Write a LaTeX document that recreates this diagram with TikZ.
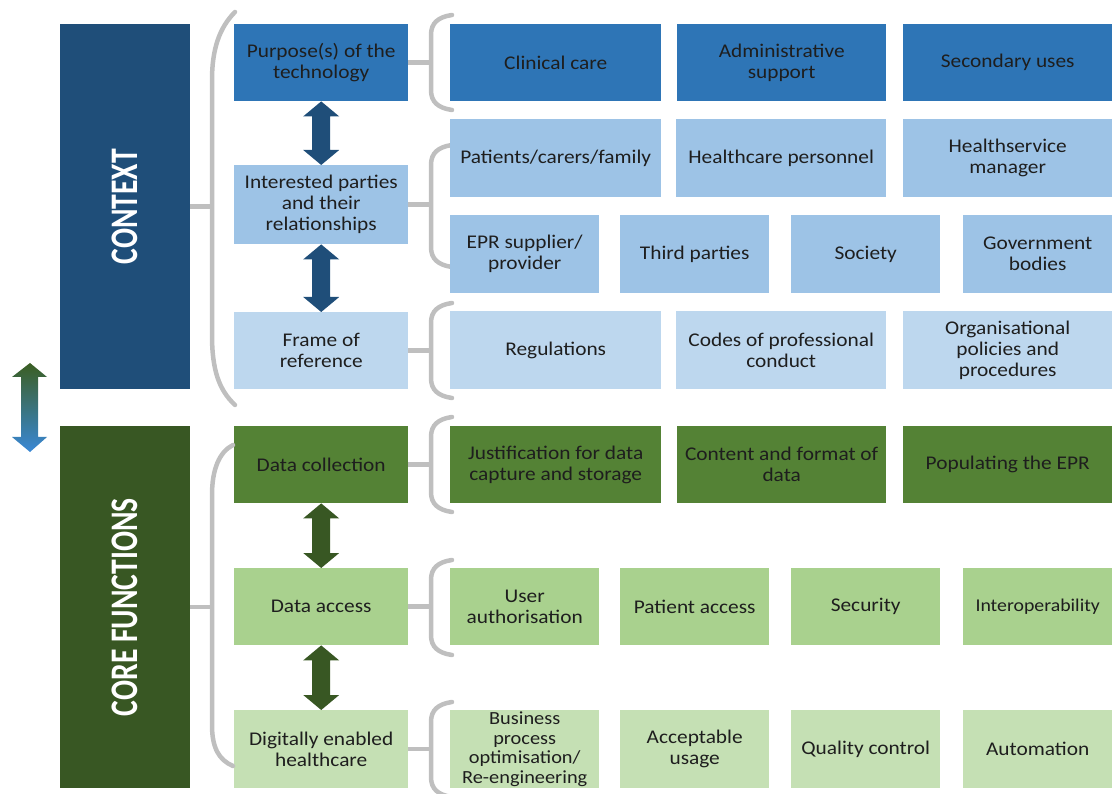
\documentclass[tikz,border=0pt]{standalone}
\usepackage{fontspec}
\setmainfont{Carlito}[FakeStretch=1.1]
\newfontfamily\bandfont{Carlito}[FakeStretch=0.76]
\usetikzlibrary{calc}

\definecolor{ctxdark}{HTML}{1F4E79}
\definecolor{blueA}{HTML}{2E75B6}
\definecolor{blueB}{HTML}{9DC3E6}
\definecolor{blueC}{HTML}{BDD7EE}
\definecolor{coredark}{HTML}{385723}
\definecolor{greenA}{HTML}{548235}
\definecolor{greenB}{HTML}{A9D18E}
\definecolor{greenC}{HTML}{C5E0B4}
\definecolor{arrowblue}{HTML}{1F4E79}
\definecolor{arrowgreen}{HTML}{385723}
\definecolor{bracegrey}{HTML}{BFBFBF}
\definecolor{txt}{HTML}{1E1E1E}
\definecolor{gradtop}{HTML}{3B5E22}
\definecolor{gradbot}{HTML}{3A88D6}

% a filled box given its top-left corner, width and height
\newcommand\cellbox[8][]{%
  \node[box,fill=#3,minimum width=#6pt,minimum height=#7pt,#1] (#2) at (#4,#5) {#8};}

% small bracket in front of a row of boxes
\newcommand\sbrack[2]{%
  \draw[brk] (452,#1) .. controls (438,#1+2) and (431,#1+8) .. (431,#1+20)
    -- (431,#2-20) .. controls (431,#2-8) and (438,#2-2) .. (452,#2);}

% block double arrow between two stacked nodes
\newcommand\dblarrow[3]{%
  \fill[#3] let \p1=(#1.south), \p2=(#2.north) in
    (\x1,\y1) -- (\x1+18pt,\y1-15pt) -- (\x1+9pt,\y1-15pt) -- (\x1+9pt,\y2+15pt)
    -- (\x1+18pt,\y2+15pt) -- (\x1,\y2) -- (\x1-18pt,\y2+15pt) -- (\x1-9pt,\y2+15pt)
    -- (\x1-9pt,\y1-15pt) -- (\x1-18pt,\y1-15pt) -- cycle;}

\begin{document}
\begin{tikzpicture}[x=1pt,y=-1pt,
  box/.style={rectangle,draw=none,inner sep=0pt,anchor=north west,align=center,
    text=txt,font=\fontsize{19.4}{21}\selectfont},
  band/.style={rotate=90,text=white,font=\bandfont\bfseries\fontsize{39}{39}\selectfont},
  brk/.style={draw=bracegrey,line width=4.5pt,line cap=round}]
\useasboundingbox (0,0) rectangle (1112,794);

% the two bands
\cellbox{ctx}{ctxdark}{60}{24}{130}{365}{}
\cellbox{core}{coredark}{60}{426}{130}{362}{}
\node[band] (ctxlabel) at (ctx.center) {CONTEXT};
\node[band] (corelabel) at (core.center) {CORE FUNCTIONS};

% switching arrow between the bands
\shade[top color=gradtop,bottom color=gradbot]
  (30,363) -- (47,377) -- (38,377) -- (38,437) -- (47,437) -- (30,452)
  -- (12,437) -- (21,437) -- (21,377) -- (12,377) -- cycle;

% middle column
\cellbox{pur}{blueA}{234}{24}{174}{77}{Purpose(s) of the\\technology}
\cellbox{int}{blueB}{234}{165}{174}{79}{Interested parties\\and their\\relationships}
\cellbox{frm}{blueC}{234}{312}{174}{77}{Frame of\\reference}
\cellbox{dc}{greenA}{234}{426}{174}{77}{Data collection}
\cellbox{da}{greenB}{234}{568}{174}{77}{Data access}
\cellbox{deh}{greenC}{234}{710}{174}{78}{Digitally enabled\\healthcare}

\dblarrow{pur}{int}{arrowblue}
\dblarrow{int}{frm}{arrowblue}
\dblarrow{dc}{da}{arrowgreen}
\dblarrow{da}{deh}{arrowgreen}

% big brackets with their stubs
\draw[brk] (235,12) .. controls (219,28) and (212,50) .. (212,80) -- (212,335)
  .. controls (212,370) and (219,390) .. (235,405);
\draw[brk] (233,445) .. controls (219,452) and (212,470) .. (212,495) -- (212,725)
  .. controls (212,748) and (219,760) .. (233,766);
\coordinate (ctxb) at ($(ctx.east)+(22,0)$);
\coordinate (coreb) at ($(core.east)+(22,0)$);
\draw[brk,line cap=butt] (ctx.east) -- (ctxb);
\draw[brk,line cap=butt] (core.east) -- (coreb);

% small brackets with their stubs
\sbrack{15}{110}
\sbrack{145}{267}
\sbrack{303}{398}
\sbrack{417}{512}
\sbrack{560}{655}
\sbrack{702}{797}
\foreach \n in {pur,int,frm,dc,da,deh}{
  \coordinate (\n b) at ($(\n.east)+(23,0)$);
  \draw[brk,line cap=butt] (\n.east) -- (\n b);
}

% purposes
\cellbox{c11}{blueA}{450}{24}{211}{77}{Clinical care}
\cellbox{c12}{blueA}{677}{24}{209}{77}{Administrative\\support}
\cellbox{c13}{blueA}{903}{24}{209}{77}{Secondary uses}
% interested parties
\cellbox{c21}{blueB}{450}{119}{211}{78}{Patients/carers/family}
\cellbox{c22}{blueB}{676}{119}{210}{78}{Healthcare personnel}
\cellbox{c23}{blueB}{903}{119}{209}{78}{Healthservice\\manager}
\cellbox{c31}{blueB}{450}{215}{149}{78}{EPR supplier/\\provider}
\cellbox{c32}{blueB}{620}{215}{149}{78}{Third parties}
\cellbox{c33}{blueB}{791}{215}{149}{78}{Society}
\cellbox{c34}{blueB}{963}{215}{149}{78}{Government\\bodies}
% frame of reference
\cellbox{c41}{blueC}{450}{311}{211}{78}{Regulations}
\cellbox{c42}{blueC}{676}{311}{210}{78}{Codes of professional\\conduct}
\cellbox{c43}{blueC}{903}{311}{209}{78}{Organisational\\policies and\\procedures}
% data collection
\cellbox{c51}{greenA}{450}{426}{211}{77}{Justification for data\\capture and storage}
\cellbox{c52}{greenA}{677}{426}{209}{77}{Content and format of\\data}
\cellbox{c53}{greenA}{903}{426}{209}{77}{Populating the EPR}
% data access
\cellbox{c61}{greenB}{450}{568}{149}{77}{User\\authorisation}
\cellbox{c62}{greenB}{620}{568}{149}{77}{Patient access}
\cellbox{c63}{greenB}{791}{568}{149}{77}{Security}
\cellbox[font=\fontsize{18}{19}\selectfont]{c64}{greenB}{963}{568}{149}{77}{Interoperability}
% digitally enabled healthcare
\cellbox[font=\fontsize{18.5}{19.5}\selectfont]{c71}{greenC}{450}{710}{149}{78}{Business\\process\\optimisation/\\Re-engineering}
\cellbox{c72}{greenC}{620}{710}{149}{78}{Acceptable\\usage}
\cellbox{c73}{greenC}{791}{710}{149}{78}{Quality control}
\cellbox{c74}{greenC}{963}{710}{149}{78}{Automation}
\end{tikzpicture}
\end{document}
